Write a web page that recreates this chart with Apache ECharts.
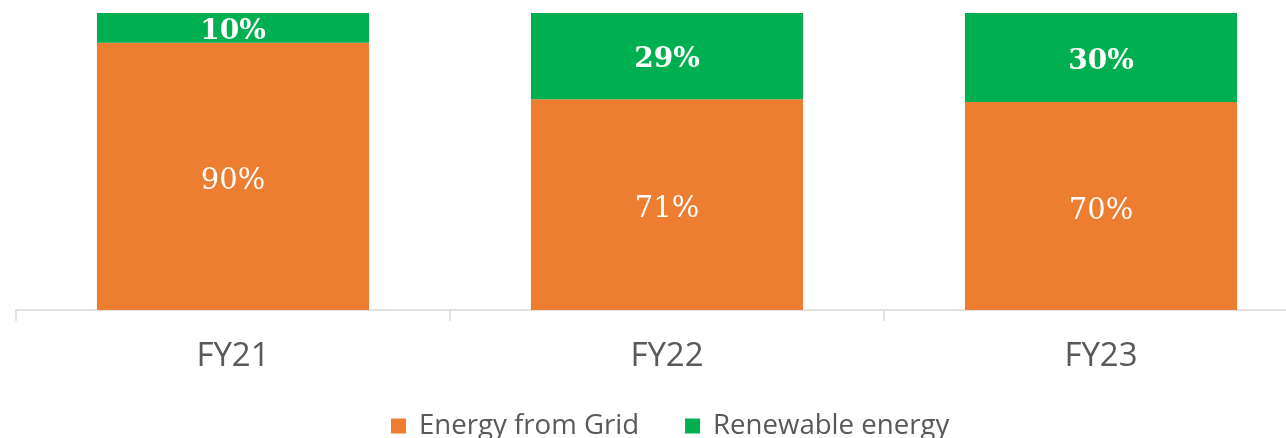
<!DOCTYPE html>
<html><head><meta charset="utf-8">
<script src="https://cdn.jsdelivr.net/npm/echarts@6/dist/echarts.min.js"></script>
<style>html,body{margin:0;padding:0;background:#fff}#c{width:1286px;height:438px}</style>
</head><body><div id="c"></div>
<script>
const categories = ['FY21', 'FY22', 'FY23'];
const gridEnergy = [90, 71, 70];
const renewableEnergy = [10, 29, 30];
const seriesNames = ['Energy from Grid', 'Renewable energy'];

const chart = echarts.init(document.getElementById('c'), null, {renderer: 'canvas'});
const labelFont = 'Georgia, "DejaVu Serif", "Liberation Serif", serif';
const sansFont = '"Open Sans", "Noto Sans", sans-serif';
chart.setOption({
  animation: false,
  grid: {left: 16, width: 1302, top: 13, height: 297, containLabel: false, outerBoundsMode: 'none'},
  legend: {
    left: 386, top: 407, itemWidth: 15, itemHeight: 15, itemGap: 46, icon: 'rect',
    textStyle: {fontFamily: sansFont, fontSize: 27.6, color: '#595959', padding: [0,0,0,8]},
    data: seriesNames
  },
  xAxis: {
    type: 'category', data: categories,
    axisLine: {lineStyle: {color: '#D9D9D9', width: 1.5}},
    axisTick: {show: true, length: 11, lineStyle: {color: '#D9D9D9', width: 1.5}},
    axisLabel: {fontFamily: sansFont, fontSize: 33, color: '#595959', margin: 30}
  },
  yAxis: {type: 'value', min: 0, max: 100, show: false, splitLine: {show: false}},
  series: [
    {
      name: seriesNames[0], type: 'bar', stack: 'a', data: gridEnergy, barCategoryGap: '37.3%',
      itemStyle: {color: '#ED7D31'},
      label: {show: true, position: 'inside', offset: [0, 5], formatter: '{c}%', color: '#fff', fontFamily: labelFont, fontSize: 29}
    },
    {
      name: seriesNames[1], type: 'bar', stack: 'a', data: renewableEnergy, barCategoryGap: '37.3%',
      itemStyle: {color: '#00B050'},
      label: {show: true, position: 'inside', offset: [0, 4], formatter: '{c}%', color: '#fff', fontFamily: labelFont, fontSize: 28, fontWeight: 'bold'}
    }
  ]
});
</script></body></html>
